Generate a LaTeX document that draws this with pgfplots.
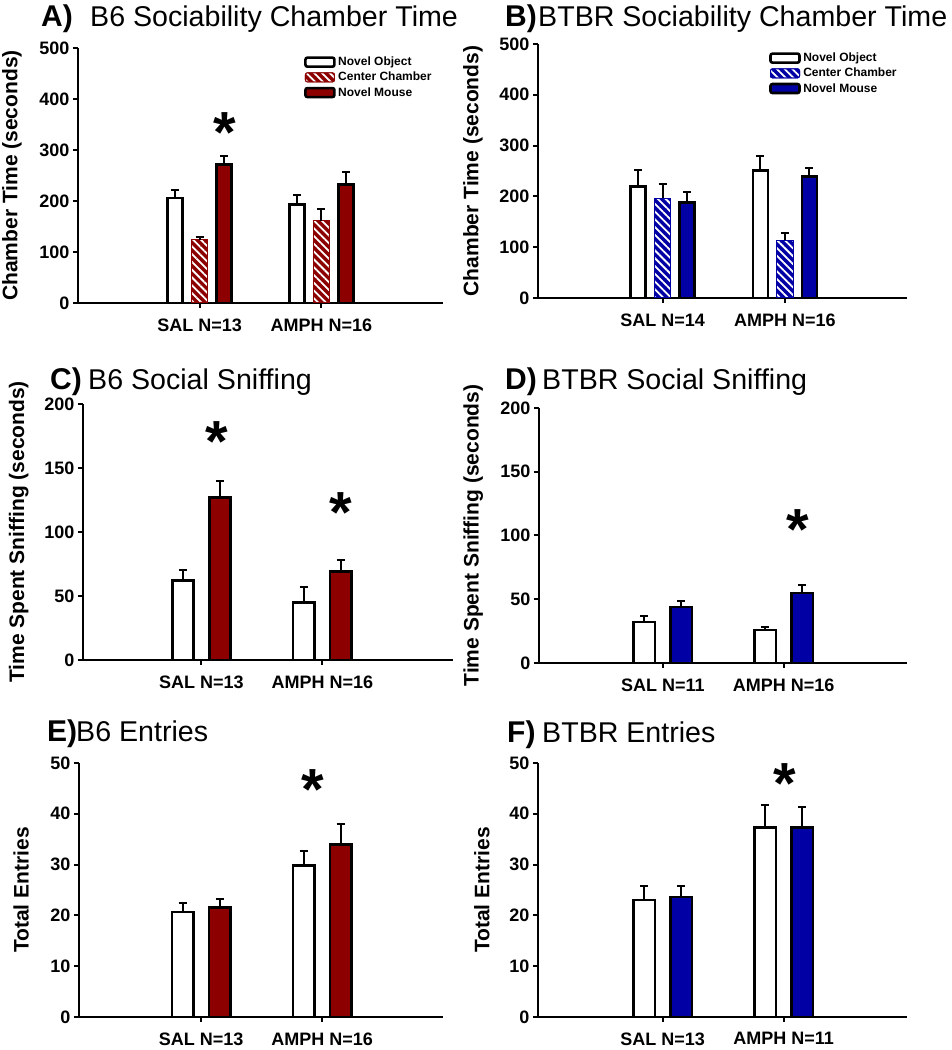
\documentclass[border=0pt]{standalone}
\usepackage{pgfplots}
\pgfplotsset{compat=1.18}
\usetikzlibrary{patterns.meta}
\usepackage{fontspec}
\setmainfont{Liberation Sans}
\definecolor{bred}{RGB}{140,0,0}
\definecolor{bblue}{RGB}{0,0,165}
\pgfplotsset{
  base/.style={
    scale only axis, anchor=south west,
    axis x line*=bottom, axis y line*=left,
    axis line style={line width=2.8pt,-},
    tick align=outside, major tick length=5pt,
    major tick style={line width=2pt,black},
    xtick={1,2}, ymin=0, ybar, clip=false,
    ticklabel style={font=\bfseries\fontsize{18}{18}\selectfont},
    /pgf/number format/assume math mode=true,
    xticklabel style={yshift=-7pt},
    ylabel style={font=\bfseries\fontsize{21}{21}\selectfont, anchor=center},
    error bars/y dir=plus, error bars/y explicit,
    error bars/error bar style={line width=2pt,black,solid},
    error bars/error mark options={rotate=90,mark size=4pt,line width=2pt,black,solid},
    legend cell align=left,
    legend style={draw=none, fill=none, font=\bfseries\fontsize{12}{12}\selectfont,
      row sep=0pt, inner sep=0pt, nodes={inner sep=2.5pt}},
  },
  limg/.style={legend image code/.code={\draw[##1,rounded corners=2pt] (0pt,-4.5pt) rectangle (29pt,4.5pt);}},
  NO/.style={fill=white, draw=black, line width=2.6pt, limg},
  NM/.style={fill=#1, draw=black, line width=2.6pt, limg},
  CC/.style={fill=#1, draw=#1, line width=1pt, limg,
    postaction={pattern={Lines[angle=-45,distance=5.5pt,line width=1.8pt]}, pattern color=white}},
}
\tikzset{
  star/.style={font=\bfseries\fontsize{58}{58}\selectfont, inner sep=0pt, anchor=center, yshift=-9.5pt},
  ttl/.style={font=\fontsize{28.6}{28.6}\selectfont, inner sep=0pt, anchor=base west},
  lett/.style={font=\bfseries\fontsize{30}{30}\selectfont, inner sep=0pt, anchor=base west},
}
\begin{document}
\begin{tikzpicture}[x=1pt,y=1pt]
\path[use as bounding box] (0pt,0pt) rectangle (951pt,1050pt);
% titles
\node[lett] at (41pt,1023pt) {A)};
\node[ttl] at (90pt,1023pt) {B6 Sociability Chamber Time};
\node[lett] at (505pt,1023pt) {B)};
\node[ttl] at (538pt,1023pt) {BTBR Sociability Chamber Time};
\node[lett] at (50pt,660pt) {C)};
\node[ttl] at (88pt,660pt) {B6 Social Sniffing};
\node[lett] at (505pt,660pt) {D)};
\node[ttl] at (542pt,660pt) {BTBR Social Sniffing};
\node[lett] at (47pt,308pt) {E)};
\node[ttl] at (76pt,308pt) {B6 Entries};
\node[lett] at (507pt,307pt) {F)};
\node[ttl] at (542pt,307pt) {BTBR Entries};

% A
\begin{axis}[base, at={(78pt,747pt)}, width=365pt, height=255pt,
  xmin=0, xmax=3, ymax=500, ytick={0,100,200,300,400,500},
  xticklabels={SAL N=13, AMPH N=16},
  ylabel={Chamber Time (seconds)},
  ylabel style={at={(axis description cs:-0.181,0.5)}},
  legend style={at={(axis description cs:0.619,0.975)}, anchor=north west}]
\addplot[NO, bar width=15pt, bar shift=-24.5pt] coordinates {(1,206) +- (0,16) (2,193) +- (0,18)};
\addplot[CC=bred, bar width=16.5pt, bar shift=0pt] coordinates {(1,124) +- (0,6) (2,161) +- (0,23)};
\addplot[NM=bred, bar width=15pt, bar shift=24.5pt] coordinates {(1,272) +- (0,16) (2,232) +- (0,25)};
\legend{Novel Object, Center Chamber, Novel Mouse}
\node[star] at (axis cs:1.208,353) {*};
\end{axis}

% B
\begin{axis}[base, at={(538pt,752pt)}, width=369pt, height=254pt,
  xmin=-0.02, xmax=3, ymax=500, ytick={0,100,200,300,400,500},
  xticklabels={SAL N=14, AMPH N=16},
  ylabel={Chamber Time (seconds)},
  ylabel style={at={(axis description cs:-0.176,0.5)}},
  legend style={at={(axis description cs:0.626,0.975)}, anchor=north west}]
\addplot[NO, bar width=15pt, bar shift=-24.5pt] coordinates {(1,219) +- (0,32) (2,251) +- (0,28)};
\addplot[CC=bblue, bar width=16.5pt, bar shift=0pt] coordinates {(1,196) +- (0,29) (2,114) +- (0,13)};
\addplot[NM=bblue, bar width=15pt, bar shift=24.5pt] coordinates {(1,188) +- (0,21) (2,239) +- (0,17)};
\legend{Novel Object, Center Chamber, Novel Mouse}
\end{axis}

% C
\begin{axis}[base, at={(83pt,390pt)}, width=370pt, height=256pt,
  xmin=0.02, xmax=3.08, ymax=200, ytick={0,50,100,150,200},
  xticklabels={SAL N=13, AMPH N=16},
  ylabel={Time Spent Sniffing (seconds)},
  ylabel style={at={(axis description cs:-0.174,0.5)}}]
\addplot[NO, bar width=21.5pt, bar shift=-18.5pt] coordinates {(1,62) +- (0,8) (2,45) +- (0,12)};
\addplot[NM=bred, bar width=21.5pt, bar shift=18.5pt] coordinates {(1,127) +- (0,13) (2,69) +- (0,9)};
\node[star] at (axis cs:1.128,178) {*};
\node[star] at (axis cs:2.15,122.5) {*};
\end{axis}

% D
\begin{axis}[base, at={(539pt,387pt)}, width=368pt, height=255pt,
  xmin=-0.025, xmax=3.02, ymax=200, ytick={0,50,100,150,200},
  xticklabels={SAL N=11, AMPH N=16},
  ylabel={Time Spent Sniffing (seconds)},
  ylabel style={at={(axis description cs:-0.179,0.5)}}]
\addplot[NO, bar width=21.5pt, bar shift=-18.5pt] coordinates {(1,32) +- (0,5) (2,26) +- (0,2.5)};
\addplot[NM=bblue, bar width=21.5pt, bar shift=18.5pt] coordinates {(1,44) +- (0,5) (2,55) +- (0,6)};
\node[star] at (axis cs:2.117,112) {*};
\end{axis}

% E
\begin{axis}[base, at={(79pt,33pt)}, width=364pt, height=254pt,
  xmin=-0.01, xmax=3.0, ymax=50, ytick={0,10,20,30,40,50},
  xticklabels={SAL N=13, AMPH N=16},
  ylabel={Total Entries},
  ylabel style={at={(axis description cs:-0.159,0.5)}}]
\addplot[NO, bar width=21.5pt, bar shift=-18.5pt] coordinates {(1,20.7) +- (0,1.8) (2,29.8) +- (0,2.9)};
\addplot[NM=bred, bar width=21.5pt, bar shift=18.5pt] coordinates {(1,21.5) +- (0,1.8) (2,33.9) +- (0,4.0)};
\node[star] at (axis cs:1.925,46.6) {*};
\end{axis}

% F
\begin{axis}[base, at={(538pt,33pt)}, width=369pt, height=254pt,
  xmin=-0.03, xmax=3.02, ymax=50, ytick={0,10,20,30,40,50},
  xticklabels={SAL N=13, AMPH N=11},
  ylabel={Total Entries},
  ylabel style={at={(axis description cs:-0.152,0.5)}}]
\addplot[NO, bar width=21.5pt, bar shift=-18.5pt] coordinates {(1,23.0) +- (0,2.7) (2,37.3) +- (0,4.5)};
\addplot[NM=bblue, bar width=21.5pt, bar shift=18.5pt] coordinates {(1,23.6) +- (0,2.2) (2,37.3) +- (0,4.1)};
\node[star] at (axis cs:2.011,47.9) {*};
\end{axis}
\end{tikzpicture}
\end{document}
